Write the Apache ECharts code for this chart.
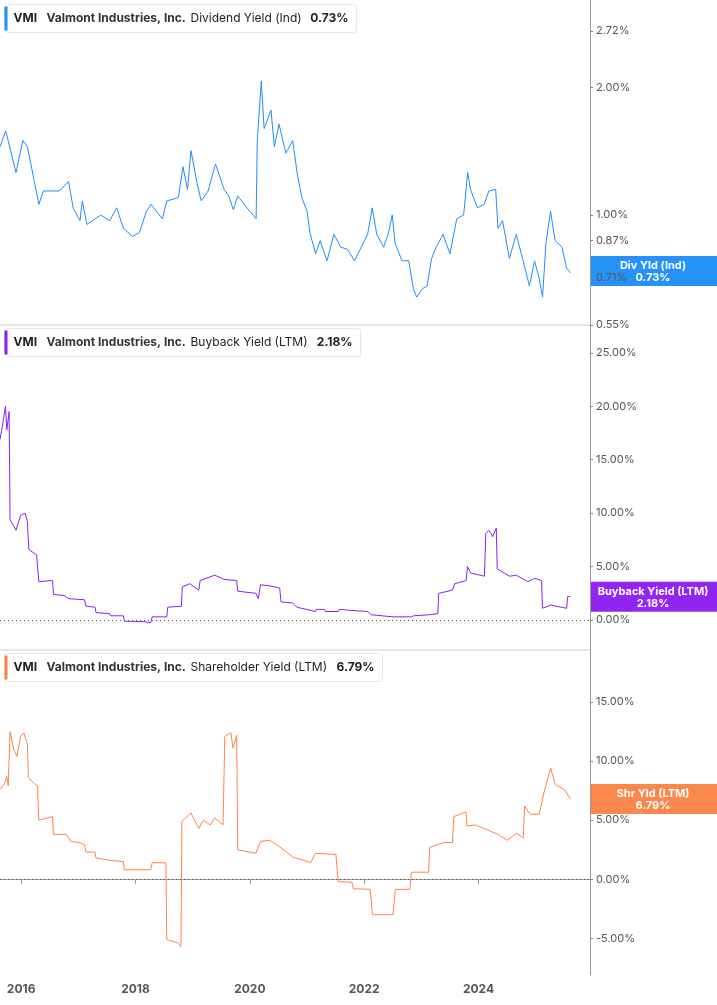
<!DOCTYPE html>
<html><head><meta charset="utf-8">
<script src="https://cdn.jsdelivr.net/npm/echarts@6/dist/echarts.min.js"></script>
<style>html,body{margin:0;padding:0;background:#fff}#c{width:717px;height:1005px}</style>
</head><body><div id="c"></div>
<script>
const divYears=[2015.63,2015.73,2015.91,2016.03,2016.11,2016.23,2016.31,2016.39,2016.67,2016.83,2016.91,2017.03,2017.07,2017.15,2017.39,2017.55,2017.67,2017.79,2017.95,2018.07,2018.19,2018.27,2018.47,2018.55,2018.75,2018.83,2018.91,2018.97,2019.07,2019.15,2019.27,2019.35,2019.40,2019.55,2019.63,2019.71,2019.79,2019.95,2020.11,2020.13,2020.20,2020.25,2020.37,2020.43,2020.51,2020.63,2020.75,2020.83,2020.91,2021.00,2021.05,2021.15,2021.23,2021.35,2021.47,2021.59,2021.71,2021.83,2021.95,2022.06,2022.14,2022.22,2022.34,2022.42,2022.49,2022.54,2022.66,2022.78,2022.86,2022.92,2023.02,2023.10,2023.18,2023.26,2023.38,2023.50,2023.62,2023.74,2023.81,2023.86,2023.98,2024.10,2024.18,2024.30,2024.34,2024.42,2024.54,2024.66,2024.78,2024.89,2024.98,2025.06,2025.12,2025.18,2025.26,2025.34,2025.46,2025.54,2025.61];
const divYield=[1.45,1.58,1.26,1.50,1.45,1.20,1.06,1.14,1.14,1.20,1.04,0.97,1.08,0.95,1.00,0.97,1.04,0.93,0.89,0.91,1.02,1.06,0.98,1.08,1.10,1.30,1.15,1.42,1.20,1.08,1.14,1.25,1.32,1.15,1.11,1.03,1.11,1.04,0.98,1.50,2.07,1.60,1.77,1.45,1.64,1.40,1.50,1.25,1.10,1.02,0.91,0.81,0.87,0.78,0.90,0.84,0.83,0.78,0.84,0.90,1.04,0.90,0.84,0.90,1.00,0.86,0.78,0.78,0.67,0.64,0.67,0.68,0.79,0.84,0.90,0.81,0.98,1.00,1.26,1.15,1.04,1.06,1.14,1.15,0.93,0.97,0.79,0.90,0.78,0.68,0.78,0.71,0.64,0.86,1.02,0.87,0.84,0.75,0.73];
const bbX=[0,5,12,15,20,22,35,45,55,60,63,80,85,115,117,140,150,185,188,208,210,240,242,270,272,315,330,333,365,367,397,399,415,435,438,470,490,518,520,560,565,570,590,612,615,640,650,690,692,710,712,740,742,770,805,812,860,900,905,940,958,960,990,995,1020,1023,1030,1060,1063,1070,1078,1086,1088,1115,1130,1155,1170,1185,1187,1205,1240,1242,1248];
const bbYield=[16.9,18.1,20.0,17.8,19.5,9.4,8.4,9.8,10.0,9.2,6.6,6.1,3.6,3.7,2.4,2.3,2.0,1.9,1.3,1.2,0.7,0.6,0.4,0.4,-0.1,-0.15,-0.25,0.3,0.3,1.2,1.3,3.1,3.4,2.8,3.7,4.2,3.8,3.7,2.7,2.5,2.0,3.3,3.2,3.0,1.7,1.6,1.2,0.8,1.0,1.0,0.8,0.8,1.0,0.9,0.8,0.5,0.3,0.3,0.4,0.5,0.6,2.5,2.8,3.4,3.7,5.0,4.4,4.1,8.1,8.4,7.8,8.6,4.8,4.1,4.2,3.6,3.9,3.7,1.1,1.4,1.1,2.2,2.18];
const shX=[0,10,15,18,22,30,37,45,52,60,62,75,82,85,115,117,145,155,175,185,188,208,210,240,270,272,330,333,363,365,390,396,398,418,435,445,460,470,488,492,505,510,518,520,560,570,590,610,640,680,690,735,740,770,773,810,815,860,865,897,900,938,940,970,990,993,1020,1022,1040,1065,1090,1110,1130,1145,1148,1160,1180,1190,1205,1215,1235,1248];
const shYield=[7.6,8.1,8.7,7.9,12.5,11.0,10.4,12.1,12.4,11.4,8.6,8.1,7.9,5.0,5.3,3.8,3.8,3.2,3.1,2.9,2.3,2.3,1.8,1.6,1.5,0.8,0.8,1.4,1.4,-5.1,-5.4,-5.7,4.9,5.6,4.3,5.0,4.6,5.2,4.6,12.1,12.4,11.1,12.2,2.5,2.2,3.2,3.3,2.8,1.9,1.4,2.2,2.1,-0.2,-0.25,-0.8,-0.85,-3.0,-3.0,-0.85,-0.85,0.6,0.6,2.7,3.1,3.1,5.3,5.7,4.5,4.6,4.2,3.8,3.3,3.9,3.5,6.2,5.5,5.5,7.3,9.4,8.0,7.6,6.79];
// bbX/shX are read positions on the reference's time axis, in 1/125.1-year steps from 2015.63
const toYear=v=>2015.63+v/125.1;
const xTicks=[2016,2018,2020,2022,2024];
const divTicks=[0.55,0.71,0.87,1.00,2.00,2.72];
const bbTicks=[0,5,10,15,20,25];
const shTicks=[-5,0,5,10,15];

const BLUE='#1f8ef8',PURPLE='#8c1ff0',ORANGE='#fa8446';
const XMIN=2015.63,XMAX=2025.95;
const lbl={color:'#555',fontSize:11,fontFamily:'Inter, Roboto, sans-serif',margin:6};
const grids=[{left:0,right:127,top:0,height:325},{left:0,right:127,top:325,height:325},{left:0,right:127,top:650,height:325}];
const xAxes=grids.map((g,i)=>({type:'value',gridIndex:i,min:XMIN,max:XMAX,
  axisLine:{show:i==2,lineStyle:{color:'#999'}},splitLine:{show:false},
  axisTick:{show:i==2,customValues:xTicks,length:5,lineStyle:{color:'#999'}},
  axisLabel:{show:i==2,customValues:xTicks,formatter:v=>String(Math.round(v)),color:'#555',fontSize:12,fontWeight:'bold',fontFamily:'Inter, Roboto, sans-serif',margin:8}}));
const yBase=(i,min,max,ticks,fmt)=>({type:'value',gridIndex:i,position:'right',min:min,max:max,
  axisLine:{show:true,lineStyle:{color:'#999'}},splitLine:{show:false},
  axisTick:{show:true,customValues:ticks,length:3,inside:false,lineStyle:{color:'#888'}},
  axisLabel:Object.assign({customValues:ticks,formatter:fmt},lbl)});
const yAxes=[
 yBase(0,Math.log(0.55),Math.log(3.22),divTicks.map(Math.log),v=>Math.exp(v).toFixed(2)+'%'),
 yBase(1,-2.8,27.6,bbTicks,v=>v.toFixed(2)+'%'),
 yBase(2,-8.1,19.4,shTicks,v=>v.toFixed(2)+'%')];
const zeroLine={silent:true,symbol:'none',label:{show:false},lineStyle:{color:'#555',type:[1,3],width:1},data:[{yAxis:0}]};
const series=[
 {type:'line',xAxisIndex:0,yAxisIndex:0,showSymbol:false,lineStyle:{color:BLUE,width:1},data:divYears.map((x,i)=>[x,Math.log(divYield[i])])},
 {type:'line',xAxisIndex:1,yAxisIndex:1,showSymbol:false,lineStyle:{color:PURPLE,width:1},data:bbX.map((x,i)=>[toYear(x),bbYield[i]]),markLine:zeroLine},
 {type:'line',xAxisIndex:2,yAxisIndex:2,showSymbol:false,lineStyle:{color:ORANGE,width:1},data:shX.map((x,i)=>[toYear(x),shYield[i]]),markLine:zeroLine}];
const chart=echarts.init(document.getElementById('c'));
chart.setOption({animation:false,grid:grids,xAxis:xAxes,yAxis:yAxes,series:series});

const F='Inter, Roboto, sans-serif';
function legend(y,color,label,val,w){
  return {type:'group',left:4,top:y,z:50,children:[
   {type:'rect',shape:{x:0,y:0,width:w,height:28,r:3},style:{fill:'#fff',stroke:'#e6e6e6',lineWidth:1}},
   {type:'rect',shape:{x:0,y:2,width:3,height:24},style:{fill:color}},
   {type:'text',x:9,y:8,style:{text:'VMI',fontSize:12,fontWeight:'bold',fill:'#222',fontFamily:F}},
   {type:'text',x:42,y:8,style:{text:'Valmont Industries, Inc.',fontSize:12,fontWeight:'bold',fill:'#333',fontFamily:F}},
   {type:'text',x:186,y:8,style:{text:label,fontSize:12,fill:'#222',fontFamily:F}},
   {type:'text',x:w-8,y:8,style:{text:val,fontSize:12,fontWeight:'bold',fill:'#222',align:'right',fontFamily:F}}]};
}
function badge(yc,h,color,t1,t2){
  return {type:'group',left:590,top:yc-h/2,z:100,children:[
   {type:'rect',shape:{x:0,y:0,width:127,height:h},style:{fill:color,opacity:0.97}},
   {type:'text',x:63,y:h/2-11,style:{text:t1+'\n'+t2,fill:'#fff',fontSize:11,fontWeight:'bold',align:'center',lineHeight:12,fontFamily:F}}]};
}
const px=(xi,x,y)=>chart.convertToPixel({xAxisIndex:xi,yAxisIndex:xi},[x,y])[1];
const y1=px(0,divYears[divYears.length-1],Math.log(divYield[divYield.length-1]));
const y2=px(1,toYear(bbX[bbX.length-1]),bbYield[bbYield.length-1]);
const y3=px(2,toYear(shX[shX.length-1]),shYield[shYield.length-1]);
chart.setOption({graphic:[
 {type:'line',shape:{x1:0,y1:325,x2:590,y2:325},style:{stroke:'#ccc',lineWidth:1}},
 {type:'line',shape:{x1:0,y1:650,x2:590,y2:650},style:{stroke:'#ccc',lineWidth:1}},
 legend(4,BLUE,'Dividend Yield (Ind)','0.73%',352),
 legend(328,PURPLE,'Buyback Yield (LTM)','2.18%',356),
 legend(653,ORANGE,'Shareholder Yield (LTM)','6.79%',378),
 badge(y1-2,30,BLUE,'Div Yld (Ind)','0.73%'),
 badge(y2,30,PURPLE,'Buyback Yield (LTM)','2.18%'),
 badge(y3,30,ORANGE,'Shr Yld (LTM)','6.79%')]});
</script></body></html>
